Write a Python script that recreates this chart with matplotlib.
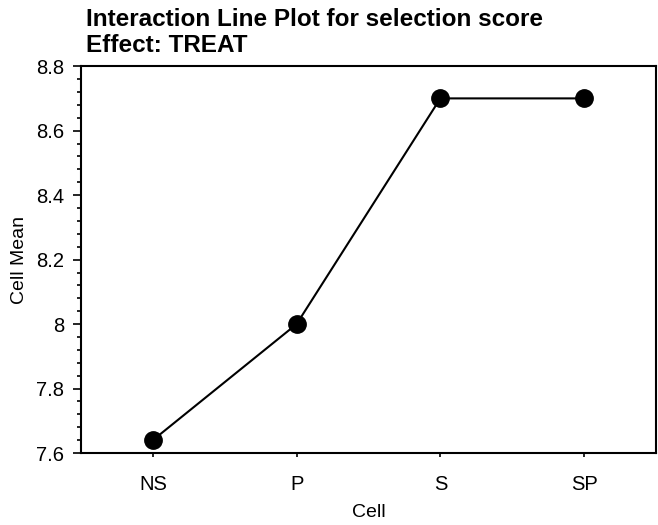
import matplotlib
matplotlib.use("Agg")
import matplotlib.pyplot as plt
from matplotlib.ticker import MultipleLocator

plt.rcParams['font.family'] = ['Liberation Sans', 'DejaVu Sans']

cells = ["NS", "P", "S", "SP"]
means = [7.64, 8.0, 8.7, 8.7]
yticks = [7.6, 7.8, 8.0, 8.2, 8.4, 8.6, 8.8]
ytick_labels = ["7.6", "7.8", "8", "8.2", "8.4", "8.6", "8.8"]

fig = plt.figure(figsize=(6.58, 5.25), dpi=100)
ax = fig.add_axes([0.123, 0.137, 0.874, 0.737])

x = list(range(len(cells)))
ax.plot(x, means, color="black", lw=1.5, marker="o", markersize=12.5,
        markerfacecolor="black", markeredgecolor="black")

ax.set_xlim(-0.5, 3.5)
ax.set_ylim(7.6, 8.8)
ax.set_xticks(x)
ax.set_xticklabels(cells, fontsize=14.5)
ax.set_yticks(yticks)
ax.set_yticklabels(ytick_labels, fontsize=14.5)
ax.yaxis.set_minor_locator(MultipleLocator(0.04))

ax.tick_params(axis="y", which="major", direction="out", length=6, width=1.2, pad=6)
ax.tick_params(axis="x", which="major", direction="out", length=3, width=1.2, pad=13)
ax.tick_params(axis="y", which="minor", direction="out", length=3, width=1.2)

for s in ax.spines.values():
    s.set_linewidth(1.5)

ax.set_xlabel("Cell", fontsize=14, labelpad=7)
ax.set_ylabel("Cell Mean", fontsize=14, labelpad=6)

fig.text(0.131, 0.962, "Interaction Line Plot for selection score", fontsize=17.5,
         fontweight="bold", ha="left", va="center")
fig.text(0.131, 0.914, "Effect: TREAT", fontsize=17.5,
         fontweight="bold", ha="left", va="center")

fig.savefig("out.png", dpi=100)
